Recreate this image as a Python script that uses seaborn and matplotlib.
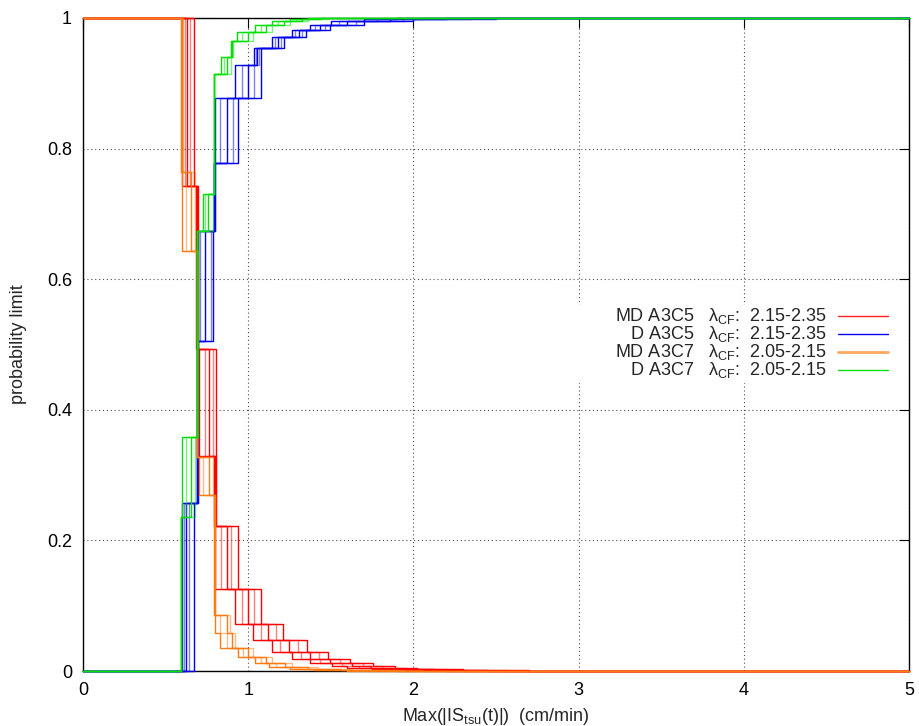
import numpy as np
import pandas as pd
import matplotlib
matplotlib.use("Agg")
import matplotlib.pyplot as plt
import seaborn as sns
from matplotlib.patches import Rectangle

# each curve is a step function: the levels it goes through, and for every
# lambda run the x at which it jumps to the next level
red_levels = [1, 0.742, 0.493, 0.33, 0.222, 0.125, 0.0715, 0.0475, 0.0286, 0.018,
              0.0117, 0.008, 0.0046, 0.0023, 0.001, 0]
red_jumps = [
    [0.600, 0.686, 0.700, 0.793, 0.797, 0.920, 1.031, 1.142, 1.263, 1.374, 1.505, 1.596, 1.75, 1.95, 2.2],
    [0.617, 0.688, 0.738, 0.797, 0.834, 0.961, 1.076, 1.195, 1.318, 1.435, 1.568, 1.67, 1.82, 2.04, 2.32],
    [0.628, 0.690, 0.763, 0.800, 0.869, 1.001, 1.122, 1.248, 1.374, 1.495, 1.631, 1.743, 1.885, 2.125, 2.45],
    [0.648, 0.692, 0.787, 0.803, 0.893, 1.036, 1.167, 1.301, 1.429, 1.556, 1.694, 1.816, 1.95, 2.21, 2.57],
    [0.672, 0.694, 0.805, 0.806, 0.940, 1.076, 1.213, 1.354, 1.485, 1.616, 1.757, 1.889, 2.02, 2.30, 2.7],
]

blue_levels = [0, 0.258, 0.506, 0.674, 0.778, 0.877, 0.928, 0.954, 0.971, 0.982, 0.99, 0.995, 0.998, 1]
blue_jumps = [
    [0.597, 0.688, 0.697, 0.790, 0.799, 0.920, 1.035, 1.142, 1.263, 1.374, 1.50, 1.70, 1.90],
    [0.612, 0.690, 0.708, 0.793, 0.829, 0.961, 1.045, 1.160, 1.285, 1.405, 1.55, 1.78, 2.05],
    [0.626, 0.692, 0.738, 0.795, 0.870, 1.001, 1.055, 1.180, 1.305, 1.435, 1.60, 1.86, 2.20],
    [0.643, 0.694, 0.772, 0.797, 0.906, 1.036, 1.065, 1.200, 1.327, 1.465, 1.65, 1.94, 2.35],
    [0.672, 0.696, 0.788, 0.800, 0.940, 1.076, 1.080, 1.217, 1.348, 1.495, 1.70, 2.00, 2.50],
]

orange_levels = [1, 0.764, 0.643, 0.327, 0.27, 0.085, 0.058, 0.035, 0.021, 0.0118, 0.0066, 0.0035, 0.0015, 0]
orange_jumps = [
    [0.593, 0.600, 0.688, 0.700, 0.793, 0.80, 0.83, 0.94, 1.040, 1.126, 1.25, 1.40, 1.60],
    [0.596, 0.622, 0.690, 0.727, 0.795, 0.83, 0.87, 0.97, 1.075, 1.170, 1.31, 1.48, 1.75],
    [0.600, 0.652, 0.692, 0.763, 0.797, 0.87, 0.90, 1.00, 1.110, 1.220, 1.36, 1.56, 1.90],
    [0.603, 0.680, 0.694, 0.788, 0.799, 0.89, 0.92, 1.03, 1.142, 1.263, 1.42, 1.63, 2.05],
]

green_levels = [0, 0.236, 0.358, 0.674, 0.73, 0.915, 0.941, 0.965, 0.979, 0.989, 0.995, 0.998, 1]
green_jumps = [
    [0.591, 0.597, 0.688, 0.727, 0.790, 0.833, 0.894, 0.930, 1.041, 1.142, 1.253, 1.364],
    [0.592, 0.622, 0.690, 0.738, 0.792, 0.853, 0.898, 0.964, 1.075, 1.180, 1.290, 1.404],
    [0.593, 0.652, 0.692, 0.758, 0.794, 0.874, 0.903, 0.997, 1.108, 1.216, 1.327, 1.443],
    [0.594, 0.680, 0.694, 0.787, 0.796, 0.894, 0.908, 1.031, 1.142, 1.253, 1.364, 1.483],
]

names = ["MD A3C5", "D A3C5", "MD A3C7", "D A3C7"]
lambdas = ["2.15-2.35", "2.15-2.35", "2.05-2.15", "2.05-2.15"]
colors = ["#ff0000", "#0000ee", "#ff7a10", "#00e000"]
key_colors = ["#ff2020", "#0000ee", "#ffa860", "#00e000"]
key_widths = [1.0, 1.0, 2.0, 1.0]
all_levels = [red_levels, blue_levels, orange_levels, green_levels]
all_jumps = [red_jumps, blue_jumps, orange_jumps, green_jumps]

x_min, x_max = 0, 5

# long table: one row per step vertex
rows = []
for name, levels, jumps in zip(names, all_levels, all_jumps):
    for k, xs in enumerate(jumps):
        px = [x_min] + list(xs) + [x_max]
        py = list(levels) + [levels[-1]]
        for a, b in zip(px, py):
            rows.append((name, k, a, b))
df = pd.DataFrame(rows, columns=["series", "run", "x", "y"])

sns.set_theme(style="white")
plt.rcParams["font.family"] = ["Liberation Sans", "DejaVu Sans"]
plt.rcParams["mathtext.fontset"] = "custom"
plt.rcParams["mathtext.rm"] = "Liberation Sans"
plt.rcParams["mathtext.it"] = "Liberation Sans:italic"
fs = 13

fig = plt.figure(figsize=(9.19, 7.26), dpi=100)
ax = fig.add_axes([83 / 919, 55 / 726, 826 / 919, 653 / 726])

alphas = [1.0, 0.5, 1.0, 0.5, 1.0]
for name, color in zip(names, colors):
    sub = df[df.series == name]
    for k in sorted(sub.run.unique()):
        d = sub[sub.run == k]
        sns.lineplot(data=d, x="x", y="y", estimator=None, sort=False,
                     drawstyle="steps-post", color=color, alpha=alphas[k],
                     lw=1.0, ax=ax, legend=False, zorder=3, clip_on=False)

ax.set_xlim(x_min, x_max)
ax.set_ylim(0, 1)
ax.set_xticks([0, 1, 2, 3, 4, 5])
ax.set_xticklabels(["0", "1", "2", "3", "4", "5"])
ax.set_yticks([0, 0.2, 0.4, 0.6, 0.8, 1])
ax.set_yticklabels(["0", "0.2", "0.4", "0.6", "0.8", "1"])
ax.tick_params(direction="in", length=7, width=0.8, top=True, right=True,
               labelsize=fs, pad=8, colors="black")
ax.grid(True, ls=(0, (1, 2.5)), color="0.3", lw=0.8)
ax.set_axisbelow(True)
for s in ax.spines.values():
    s.set_color("black")
    s.set_linewidth(1.0)

ax.set_xlabel(r"Max(|IS$_{\mathrm{tsu}}$(t)|)  (cm/min)", fontsize=fs, labelpad=5)
ax.set_ylabel("probability limit", fontsize=fs, labelpad=14)

# gnuplot style key: white box, right aligned text, sample line on the right
ax.add_patch(Rectangle((0.59, 0.441), 0.399, 0.12, transform=ax.transAxes,
                       facecolor="white", edgecolor="none", zorder=4))
key_y = [0.5436, 0.5161, 0.4885, 0.4609]
for i in range(4):
    ax.text(0.9007, key_y[i], f"{names[i]}   λ$_{{\\mathrm{{CF}}}}$:  {lambdas[i]}",
            transform=ax.transAxes, ha="right", va="center", fontsize=fs, zorder=5)
    ax.plot([0.914, 0.9746], [key_y[i], key_y[i]], transform=ax.transAxes,
            color=key_colors[i], lw=key_widths[i], zorder=5)

fig.savefig("out.png", dpi=100)
